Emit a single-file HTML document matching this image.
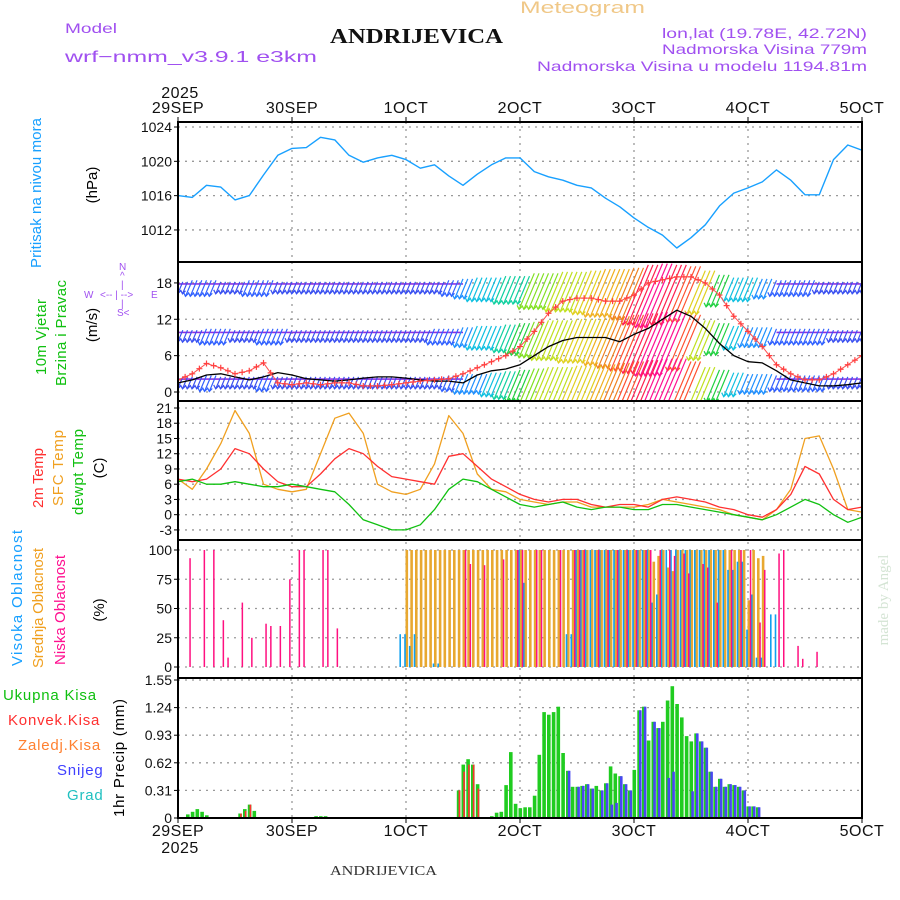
<!DOCTYPE html>
<html><head><meta charset="utf-8"><style>
html,body{margin:0;padding:0;background:#fff;}
svg{display:block;font-family:"Liberation Sans",sans-serif;}
</style></head><body>
<svg id="chart" width="900" height="900" viewBox="0 0 900 900" xmlns="http://www.w3.org/2000/svg">
<rect x="0" y="0" width="900" height="900" fill="#fff"/>
<g>
<text x="65" y="33" font-size="14" fill="#a050f0" textLength="52" lengthAdjust="spacingAndGlyphs">Model</text>
<text x="65" y="62" font-size="16" fill="#a050f0" textLength="252" lengthAdjust="spacingAndGlyphs">wrf−nmm_v3.9.1 e3km</text>
<text x="330" y="43" font-size="21" font-weight="bold" font-family="Liberation Serif,serif" fill="#111" textLength="173" lengthAdjust="spacingAndGlyphs">ANDRIJEVICA</text>
<text x="520" y="13" font-size="17" fill="#f0c888" textLength="125" lengthAdjust="spacingAndGlyphs">Meteogram</text>
<text x="867" y="38" font-size="14" fill="#a050f0" text-anchor="end" textLength="205" lengthAdjust="spacingAndGlyphs">lon,lat (19.78E, 42.72N)</text>
<text x="867" y="54" font-size="14" fill="#a050f0" text-anchor="end" textLength="205" lengthAdjust="spacingAndGlyphs">Nadmorska Visina 779m</text>
<text x="867" y="71" font-size="14" fill="#a050f0" text-anchor="end" textLength="330" lengthAdjust="spacingAndGlyphs">Nadmorska Visina u modelu 1194.81m</text>
<text x="330" y="875" font-size="14" font-family="Liberation Serif,serif" fill="#333" textLength="107" lengthAdjust="spacingAndGlyphs">ANDRIJEVICA</text>
<text transform="translate(888,600) rotate(-90)" font-size="15" font-family="Liberation Serif,serif" fill="#d4e4d4" text-anchor="middle">made by Angel</text>
</g>
<g>
<text transform="translate(41,193) rotate(-90)" font-size="15" fill="#18a0ff" text-anchor="middle" textLength="150">Pritisak na nivou mora</text>
<text transform="translate(97,185) rotate(-90)" font-size="15" fill="#000" text-anchor="middle">(hPa)</text>
<text transform="translate(46,337) rotate(-90)" font-size="15" fill="#10c010" text-anchor="middle" textLength="76">10m Vjetar</text>
<text transform="translate(66,333) rotate(-90)" font-size="15" fill="#10c010" text-anchor="middle" textLength="106">Brzina i Pravac</text>
<text transform="translate(97,325) rotate(-90)" font-size="15" fill="#000" text-anchor="middle">(m/s)</text>
<g fill="#a050f0" font-size="10">
<text x="119" y="270">N</text><text x="120" y="279">^</text><text x="121" y="288">|</text>
<text x="84" y="298">W</text><text x="100" y="298">&lt;-- | --&gt;</text><text x="151" y="298">E</text>
<text x="121" y="307">|</text><text x="117" y="316">S&lt;</text>
</g>
<text transform="translate(43,478) rotate(-90)" font-size="15" fill="#ff3030" text-anchor="middle" textLength="60">2m Temp</text>
<text transform="translate(63,468) rotate(-90)" font-size="15" fill="#f0a020" text-anchor="middle" textLength="76">SFC Temp</text>
<text transform="translate(83,472) rotate(-90)" font-size="15" fill="#10c010" text-anchor="middle" textLength="86">dewpt Temp</text>
<text transform="translate(104,468) rotate(-90)" font-size="15" fill="#000" text-anchor="middle">(C)</text>
<text transform="translate(22,598) rotate(-90)" font-size="15" fill="#18a0ff" text-anchor="middle" textLength="136">Visoka Oblacnost</text>
<text transform="translate(43,608) rotate(-90)" font-size="15" fill="#f0a020" text-anchor="middle" textLength="120">Srednja Oblacnost</text>
<text transform="translate(65,610) rotate(-90)" font-size="15" fill="#ff1090" text-anchor="middle" textLength="110">Niska Oblacnost</text>
<text transform="translate(104,610) rotate(-90)" font-size="15" fill="#000" text-anchor="middle">(%)</text>
<text transform="translate(124,758) rotate(-90)" font-size="15" fill="#000" text-anchor="middle" textLength="118">1hr Precip (mm)</text>
<text x="3" y="700" font-size="15" fill="#10c010" letter-spacing="0.8">Ukupna Kisa</text>
<text x="8" y="725" font-size="15" fill="#ff3030" letter-spacing="0.8">Konvek.Kisa</text>
<text x="18" y="750" font-size="15" fill="#ff8030" letter-spacing="0.8">Zaledj.Kisa</text>
<text x="57" y="775" font-size="15" fill="#4040ff" letter-spacing="0.8">Snijeg</text>
<text x="67" y="800" font-size="15" fill="#20c0c0" letter-spacing="0.8">Grad</text>
</g>
<g id="grid"></g>
<g id="marks"></g>
<g id="frame"></g>
</svg>
<script>
// ---- data (3-hourly unless noted) ----
const dayLabels = ["29SEP","30SEP","1OCT","2OCT","3OCT","4OCT","5OCT"];
const pressure = [1016,1015.8,1017.2,1017,1015.5,1016,1018.4,1020.7,1021.5,1021.6,1022.8,1022.5,1020.7,1019.9,1020.4,1020.7,1020.2,1019.2,1019.6,1018.3,1017.2,1018.5,1019.6,1020.4,1020.4,1018.8,1018.2,1017.8,1017.2,1016.9,1015.7,1014.7,1013.4,1012.3,1011.4,1009.9,1011.1,1012.6,1014.8,1016.3,1016.9,1017.6,1019,1017.8,1016.1,1016.1,1020.2,1021.9,1021.3];
const pressureTicks = [1024,1020,1016,1012];
const windUpper = [3,4,4,3,3,4,4,3,3,3,3,3,3,3,3,3,3,3,3,4,5,6,6,7,7,9,9,10,10,11,12,12,13,15,16,15,14,11,8,6,6,5,4,4,4,3,3,3,3];
const windMid = [3,3,4,4,3,3,4,4,3,3,3,3,3,3,3,3,3,3,4,4,5,6,6,7,8,9,10,10,11,11,12,13,14,15,16,16,14,10,8,6,5,5,4,4,4,4,3,3,3];
const windLow = [3,3,4,3,3,3,4,3,3,3,3,3,3,3,3,3,3,3,3,4,5,5,6,7,8,9,10,10,11,11,12,13,14,15,16,16,14,10,8,6,5,5,4,4,4,4,3,3,3];
const windLevels = [17.5, 9.5, 1.8];
const windSpeed = [1.5,2,2.8,3,2.5,2,2.5,3.2,2.8,2.2,2,1.8,2,2.3,2.5,2.5,2.3,2,1.8,1.8,1.5,2.8,3.5,3.8,4.5,6,7.5,8.5,9,9,9,8.3,9.5,10.5,12,13.5,12.5,10.5,8,6,5,4.8,3.5,2,1.5,1,1,1.2,1.5];
const windGust = [2,3,4.7,4,3,3.5,4.8,1.5,1.2,1.5,1.2,1.5,1.5,1,1,1.2,1.5,1.8,2,2.2,3,4,5,6,7.5,10,13,15,15.5,15.5,15,15,16,18,18.5,19,19,18,16,12.5,10,7.5,4.5,3,2,2,3,4.5,6];
const windTicks = [18,12,6,0];
const temp2m = [7,6.5,7,9,13,12,9,6.5,5.5,5.5,8,11,13,12,9.5,7.5,7,6.5,6,11.5,12,9.5,7,5.5,4,3,2.5,3,3,2,1.5,2,2,1.5,3,3.5,3,2.5,1.5,1,0,-0.5,1,4,9.5,8,3,1,1.5];
const tempSfc = [7,5,9,14,20.5,16,6,5,4.5,5,12,19,20,16,6,4.5,4,5,10,19.5,16,8,5,4.5,3,2.5,2,2.5,2.5,1.5,1.5,1.5,1.5,2,3,2.5,2,1.5,1,0,-0.5,-1,1,5,15,15.5,9,1,0.5];
const dewpt = [6.5,7,6,6,6.5,6,5.5,5.5,6,5.5,5,4.5,2,-1,-2,-3,-3,-2,1,5,7,6.5,5,3.5,2,1.5,2,2.5,1.5,1,1.5,1.5,1,1,2,2,1.5,1,0.5,0,-0.5,-1,0,1.5,3,2,0,-1.5,-0.5];
const tempTicks = [21,18,15,12,9,6,3,0,-3];
// cloud cover, hourly segments [startHour, endHour, percent]
const lowCloud = [[2,2,93],[5,5,100],[7,7,100],[9,9,40],[10,10,8],[13,13,55],[15,15,25],[18,18,37],[19,19,35],[21,21,35],[23,23,75],[25,26,100],[30,31,100],[33,33,33],[60,60,100],[61,61,88],[64,64,87],[68,68,92],[71,72,100],[75,76,100],[80,80,100],[83,85,100],[88,88,100],[90,90,100],[92,92,100],[94,94,100],[96,96,100],[98,99,100],[101,101,100],[103,103,100],[104,104,95],[106,106,97],[107,107,80],[110,110,88],[111,111,85],[113,113,55],[116,116,100],[118,118,100],[120,120,100],[122,122,38],[123,123,83],[126,126,97],[127,127,100],[130,130,18],[131,131,7],[134,134,13]];
const midCloud = [[48,99,100],[100,100,90],[101,101,95],[102,102,100],[103,103,85],[104,104,82],[105,119,100],[120,120,57],[121,121,100],[122,122,93],[123,123,95]];
const highCloud = [[47,48,28],[49,49,18],[50,50,28],[54,55,3],[72,72,100],[73,73,72],[82,83,28],[84,99,100],[100,100,55],[101,101,62],[102,115,100],[116,117,83],[118,119,90],[120,120,32],[121,121,62],[122,123,8],[125,126,45]];
const cloudTicks = [100,75,50,25,0];
// hourly precipitation (mm), hours 0..144
const precipTotal = [0,0,0.04,0.07,0.1,0.07,0.03,0,0,0,0,0,0,0.05,0.1,0.15,0.08,0,0,0,0,0,0,0,0,0,0,0,0,0.02,0.02,0.02,0,0,0,0,0,0,0,0,0,0,0,0,0,0,0,0,0,0,0,0,0,0,0,0,0,0,0,
0.31,0.6,0.66,0.6,0.38,0,0,0.02,0.06,0.07,0.37,0.74,0.16,0.11,0.12,0.12,0.25,0.71,1.19,1.16,1.19,1.25,0.73,0.53,0.35,0.35,0.36,0.38,0.33,0.36,0.31,0.39,0.58,0.5,0.47,0.38,0.31,0.54,1.21,1.25,0.87,1.08,1.01,1.08,1.32,1.48,1.28,1.13,0.92,0.86,0.95,0.86,0.79,0.52,0.35,0.44,0.35,0.38,0.37,0.35,0.31,0.13,0.13,0.12,
0,0,0,0,0,0,0,0,0,0,0,0,0,0,0,0,0,0,0,0,0,0];
const precipConv = [[13,0.05],[14,0.08],[15,0.15],[59,0.31],[60,0.52],[61,0.6],[62,0.6],[63,0.33]];
const precipSnow = [[82,0.53],[84,0.35],[85,0.36],[86,0.38],[87,0.33],[89,0.31],[90,0.39],[91,0.15],[92,0.17],[93,0.47],[94,0.38],[95,0.31],[97,1.21],[98,1.25],[100,1.08],[101,1.01],[103,0.45],[104,0.52],[108,0.3],[109,0.95],[110,0.86],[111,0.79],[112,0.52],[113,0.35],[114,0.44],[115,0.35],[116,0.38],[117,0.37],[118,0.35],[119,0.31],[120,0.13],[121,0.13],[122,0.12]];
const precipTicks = [1.55,1.24,0.93,0.62,0.31,0];

// ---- layout / scales ----
const NS = "http://www.w3.org/2000/svg";
const X0 = 178, X1 = 862, HOURS = 144, STEP = 3;
const xH = h => X0 + h * (X1 - X0) / HOURS;
const yP = v => 127 + (1024 - v) * 8.58;
const yW = v => 392 - v * 6.06;
const yT = v => 408 + (21 - v) * 5.08;
const yC = v => 667 - v * 1.17;
const yR = v => 818 - v * (138 / 1.55);
const panels = [[122,262,"pressure-panel"],[262,401,"wind-panel"],[401,540,"temperature-panel"],[540,678,"cloud-panel"],[678,818,"precip-panel"]];

function mk(tag, attrs, parent) {
  const e = document.createElementNS(NS, tag);
  for (const k in attrs) e.setAttribute(k, attrs[k]);
  parent.appendChild(e);
  return e;
}
const grid = document.getElementById("grid");
const marks = document.getElementById("marks");
const frame = document.getElementById("frame");

const defs = mk("defs", {}, document.getElementById("chart"));
panels.forEach((p, i) => {
  const cp = mk("clipPath", {id: "clip" + i}, defs);
  mk("rect", {x: X0, y: p[0], width: X1 - X0, height: p[1] - p[0]}, cp);
});

dayLabels.forEach((d, i) => {
  const x = xH(i * 24);
  const gl = mk("line", {x1: x, x2: x, y1: 122, y2: 818, stroke: "#999", "stroke-width": 1.3, "stroke-dasharray": "2,5"}, grid);
  
  
  const t1 = mk("text", {x: x, y: 113, "font-size": 16, "text-anchor": "middle", fill: "#111", "letter-spacing": "0.5"}, frame);
  t1.textContent = d;
  
  
  const t2 = mk("text", {x: x, y: 836, "font-size": 16, "text-anchor": "middle", fill: "#111", "letter-spacing": "0.5"}, frame);
  t2.textContent = d;
  
  
  mk("line", {x1: x, x2: x, y1: 117, y2: 122, stroke: "#000"}, frame);
  mk("line", {x1: x, x2: x, y1: 818, y2: 823, stroke: "#000"}, frame);
});
[[X0, 98], [X0, 853]].forEach(p => {
  const t = mk("text", {x: p[0] + 2, y: p[1], "font-size": 16, "text-anchor": "middle", fill: "#111", "letter-spacing": "0.5"}, frame);
  t.textContent = "2025";
  
  
});

function yTicks(vals, fy, fmt) {
  vals.forEach(v => {
    const y = fy(v);
    const gl = mk("line", {x1: X0, x2: X1, y1: y, y2: y, stroke: "#999", "stroke-width": 1.3, "stroke-dasharray": "2,5"}, grid);
    
    
    mk("line", {x1: X0 - 4, x2: X0, y1: y, y2: y, stroke: "#000"}, frame);
    const t = mk("text", {x: X0 - 6, y: y + 5, "font-size": 14, "text-anchor": "end", fill: "#111"}, frame);
    t.textContent = fmt ? fmt(v) : v;
    
    
  });
}
yTicks(pressureTicks, yP);
yTicks(windTicks, yW);
yTicks(tempTicks, yT);
yTicks(cloudTicks, yC);
yTicks(precipTicks, yR, v => v === 0 ? "0" : v.toFixed(2));

function line(arr, fx, fy, color, width, name, clip) {
  const pts = arr.map((v, i) => fx(i * STEP).toFixed(1) + "," + fy(v).toFixed(1)).join(" ");
  const pl = mk("polyline", {points: pts, fill: "none", stroke: color, "stroke-width": width, "stroke-linejoin": "round", "clip-path": "url(#clip" + clip + ")"}, marks);
  
  
  return pl;
}

line(pressure, xH, yP, "#18a0ff", 1.4, "pressure-line", 0);

function speedColor(s) {
  const c = ["#3a50f0","#3a50f0","#3a50f0","#3a50f0","#3060ff","#2090ff","#10c0e0","#10d0a0","#20d040","#80e020","#c0e020","#e0d020","#f0b020","#f08020","#ff5030","#ff2050","#ff1090","#ff1090"];
  return c[Math.max(0, Math.min(c.length - 1, Math.round(s)))];
}
const barbG = mk("g", {"clip-path": "url(#clip1)"}, marks);


[windUpper, windMid, windLow].forEach((arr, li) => {
  const base = yW(windLevels[li]);
  arr.forEach((s, i) => {
    if (s <= 4 && i < arr.length - 1) {
      const seg = mk("line", {x1: xH(i * STEP), x2: xH((i + 1) * STEP), y1: base - 2, y2: base - 2, stroke: "#9030e0", "stroke-width": 1.6}, barbG);
      
      
    }
    for (let k = 0; k < 3; k++) {
      const x = xH(i * STEP + k);
      const L = s * 4;
      const y1 = base - L * 0.35, y2 = base + L * 0.65;
      const x2 = x - L * 0.42;
      const col = speedColor(s);
      const b = mk("path", {d: `M${x.toFixed(1)},${y1.toFixed(1)} L${x2.toFixed(1)},${y2.toFixed(1)} M${(x2-2).toFixed(1)},${(y2-4).toFixed(1)} L${x2.toFixed(1)},${y2.toFixed(1)} L${(x2+3).toFixed(1)},${(y2-3).toFixed(1)}`, stroke: col, "stroke-width": 1.2, fill: "none"}, barbG);
      
      
    }
  });
});
line(windSpeed, xH, yW, "#000", 1.3, "wind-speed-line", 1);
line(windGust, xH, yW, "#ff5050", 1, "wind-gust-line", 1);
windGust.forEach((v, i) => {
  for (let k = 0; k < 2; k++) {
    const nxt = windGust[Math.min(i + 1, windGust.length - 1)];
    const vv = v + (nxt - v) * k / 2;
    const x = xH(i * STEP + k * 1.5), y = yW(vv);
    const p = mk("path", {d: `M${x-3},${y} h6 M${x},${y-3} v6`, stroke: "#ff4040", "stroke-width": 1.2, "clip-path": "url(#clip1)"}, marks);
    
    
  }
});

line(tempSfc, xH, yT, "#f0a020", 1.3, "sfc-temp-line", 2);
line(temp2m, xH, yT, "#ff3030", 1.3, "temp-2m-line", 2);
line(dewpt, xH, yT, "#10c010", 1.3, "dewpoint-line", 2);

function cloudBars(segs, color, dx, w, name) {
  segs.forEach(s => {
    for (let h = s[0]; h <= s[1]; h++) {
      const x = xH(h) + dx, y = yC(s[2]);
      const r = mk("rect", {x: x.toFixed(1), y: y.toFixed(1), width: w, height: (yC(0) - y).toFixed(1), fill: color, "clip-path": "url(#clip3)"}, marks);
      
      
    }
  });
}
cloudBars(midCloud, "#e8a830", -0.5, 2.6, "mid-cloud-bar");
cloudBars(highCloud, "#10a0f0", -1.8, 1.6, "high-cloud-bar");
cloudBars(lowCloud, "#ff1080", 1.8, 1.5, "low-cloud-bar");

precipTotal.forEach((v, h) => {
  if (v <= 0) return;
  const x = xH(h) - 1.5, y = yR(v);
  const r = mk("rect", {x: x.toFixed(1), y: y.toFixed(1), width: 3.6, height: (yR(0) - y).toFixed(1), fill: "#20cc20"}, marks);
  
  
});
precipSnow.forEach(p => {
  const x = xH(p[0]) + 0.3, y = yR(p[1]);
  const r = mk("rect", {x: x.toFixed(1), y: y.toFixed(1), width: 2.6, height: (yR(0) - y).toFixed(1), fill: "#4848f0"}, marks);
  
  
});
precipConv.forEach(p => {
  const x = xH(p[0]) + 0.3, y = yR(p[1]);
  const r = mk("rect", {x: x.toFixed(1), y: y.toFixed(1), width: 1.6, height: (yR(0) - y).toFixed(1), fill: "#ff3030"}, marks);
  
  
});

panels.forEach(p => {
  const r = mk("rect", {x: X0, y: p[0], width: X1 - X0, height: p[1] - p[0], fill: "none", stroke: "#000", "stroke-width": 2}, frame);
  
  
});
</script>
</body></html>
